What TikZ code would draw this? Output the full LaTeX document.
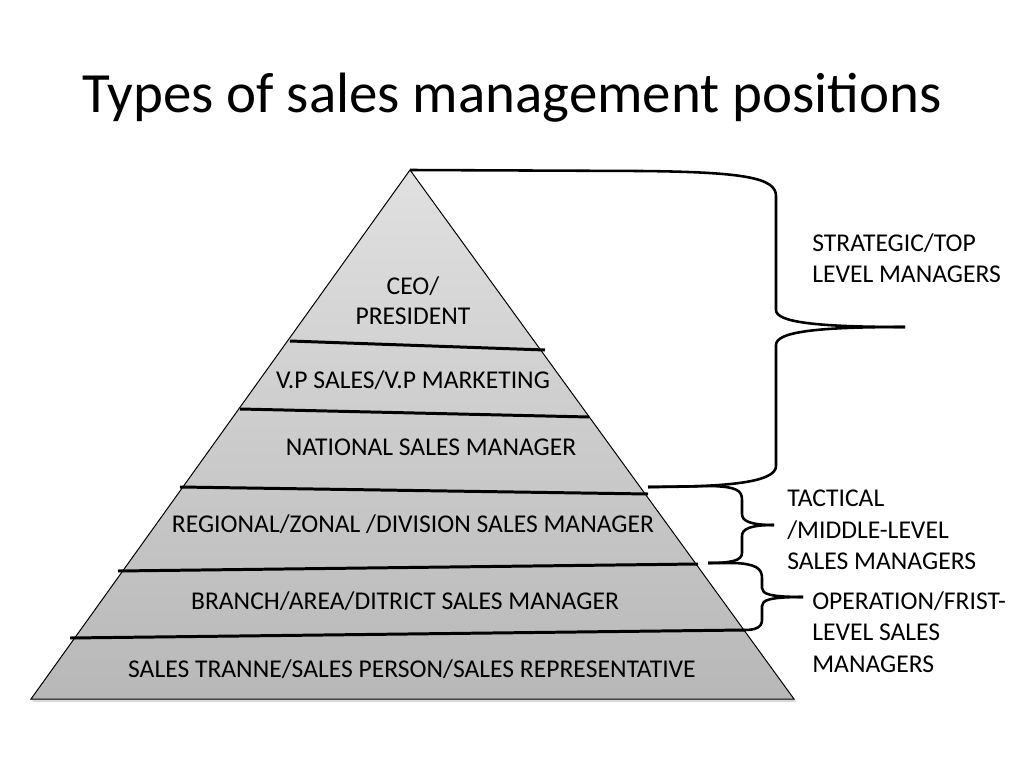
\documentclass[tikz,border=0pt]{standalone}
\usepackage{fontspec}
\setmainfont{Carlito}
\begin{document}
\begin{tikzpicture}[x=0.703125pt,y=-0.703125pt,
  lbl/.style={inner sep=0pt,font=\fontsize{18}{21}\selectfont,align=center},
  side/.style={inner sep=0pt,font=\fontsize{18}{22}\selectfont,align=left,anchor=west},
  divider/.style={line width=2.1pt,black},
  brace/.style={line width=1.8pt,black,line join=round}]
\useasboundingbox (0,0) rectangle (1024,768);
% title
\node[inner sep=0pt,font=\fontsize{40}{48}\selectfont] (title) at (512,98) {Types of sales management positions};
% pyramid
\coordinate (apex) at (410,170);
\coordinate (bl) at (31,699);
\coordinate (br) at (794,699);
\fill[black!15] (34,702) -- (797,702) -- (794,699) -- (31,699) -- cycle;
\shade[top color=black!12,bottom color=black!28] (apex) -- (br) -- (bl) -- cycle;
\draw[line width=0.7pt] (apex) -- (br) -- (bl) -- cycle;
% dividers
\coordinate (d1l) at (290,341); \coordinate (d1r) at (545,350);
\coordinate (d2l) at (240,409); \coordinate (d2r) at (589,417);
\coordinate (d3l) at (180,487); \coordinate (d3r) at (648,494);
\coordinate (d4l) at (118,571); \coordinate (d4r) at (698,564);
\coordinate (d5l) at (70,638);  \coordinate (d5r) at (745,630);
\foreach \a in {1,...,5}{\draw[divider] (d\a l) -- (d\a r);}
% level texts
\node[lbl] (ceo) at (413,301) {CEO/\\PRESIDENT};
\node[lbl] (vp) at (413,380) {V.P SALES/V.P MARKETING};
\node[lbl] (nsm) at (431,447) {NATIONAL SALES MANAGER};
\node[lbl] (rsm) at (413,524) {REGIONAL/ZONAL /DIVISION SALES MANAGER};
\node[lbl] (bsm) at (405,601) {BRANCH/AREA/DITRICT SALES MANAGER};
\node[lbl] (sp) at (412,669) {SALES TRANNE/SALES PERSON/SALES REPRESENTATIVE};
% braces
\coordinate (b1tip) at (905,327);
\coordinate (b1end) at (648,487);
\draw[brace] (apex) -- (640,171) .. controls (745,172) and (776,178) .. (776,196)
  -- (776,310) .. controls (776,322) and (815,327) .. (b1tip);
\draw[brace] (b1tip) .. controls (815,327) and (776,332) .. (776,345)
  -- (776,466) .. controls (776,482) and (730,487) .. (b1end);
\coordinate (b2tip) at (774,525);
\coordinate (b2end) at (708,563);
\draw[brace] (b1end) -- (712,486) .. controls (736,487) and (742,490) .. (742,500)
  -- (742,514) .. controls (742,521) and (750,525) .. (b2tip);
\draw[brace] (b2tip) .. controls (750,525) and (742,529) .. (742,536)
  -- (742,553) .. controls (742,561) and (730,563) .. (b2end);
\coordinate (b3tip) at (803,597);
\draw[brace] (b2end) -- (735,563) .. controls (755,564) and (762,568) .. (762,578)
  -- (762,588) .. controls (762,594) and (770,597) .. (b3tip);
\draw[brace] (b3tip) .. controls (770,597) and (762,600) .. (762,606)
  -- (762,620) .. controls (762,628) and (754,630) .. (d5r);
% side labels
\node[side] (strat) at (812,258) {STRATEGIC/TOP\\LEVEL MANAGERS};
\node[side] (tact) at (787,530) {TACTICAL\\/MIDDLE-LEVEL\\SALES MANAGERS};
\node[side] (oper) at (812,632) {OPERATION/FRIST-\\LEVEL SALES\\MANAGERS};
\end{tikzpicture}
\end{document}
